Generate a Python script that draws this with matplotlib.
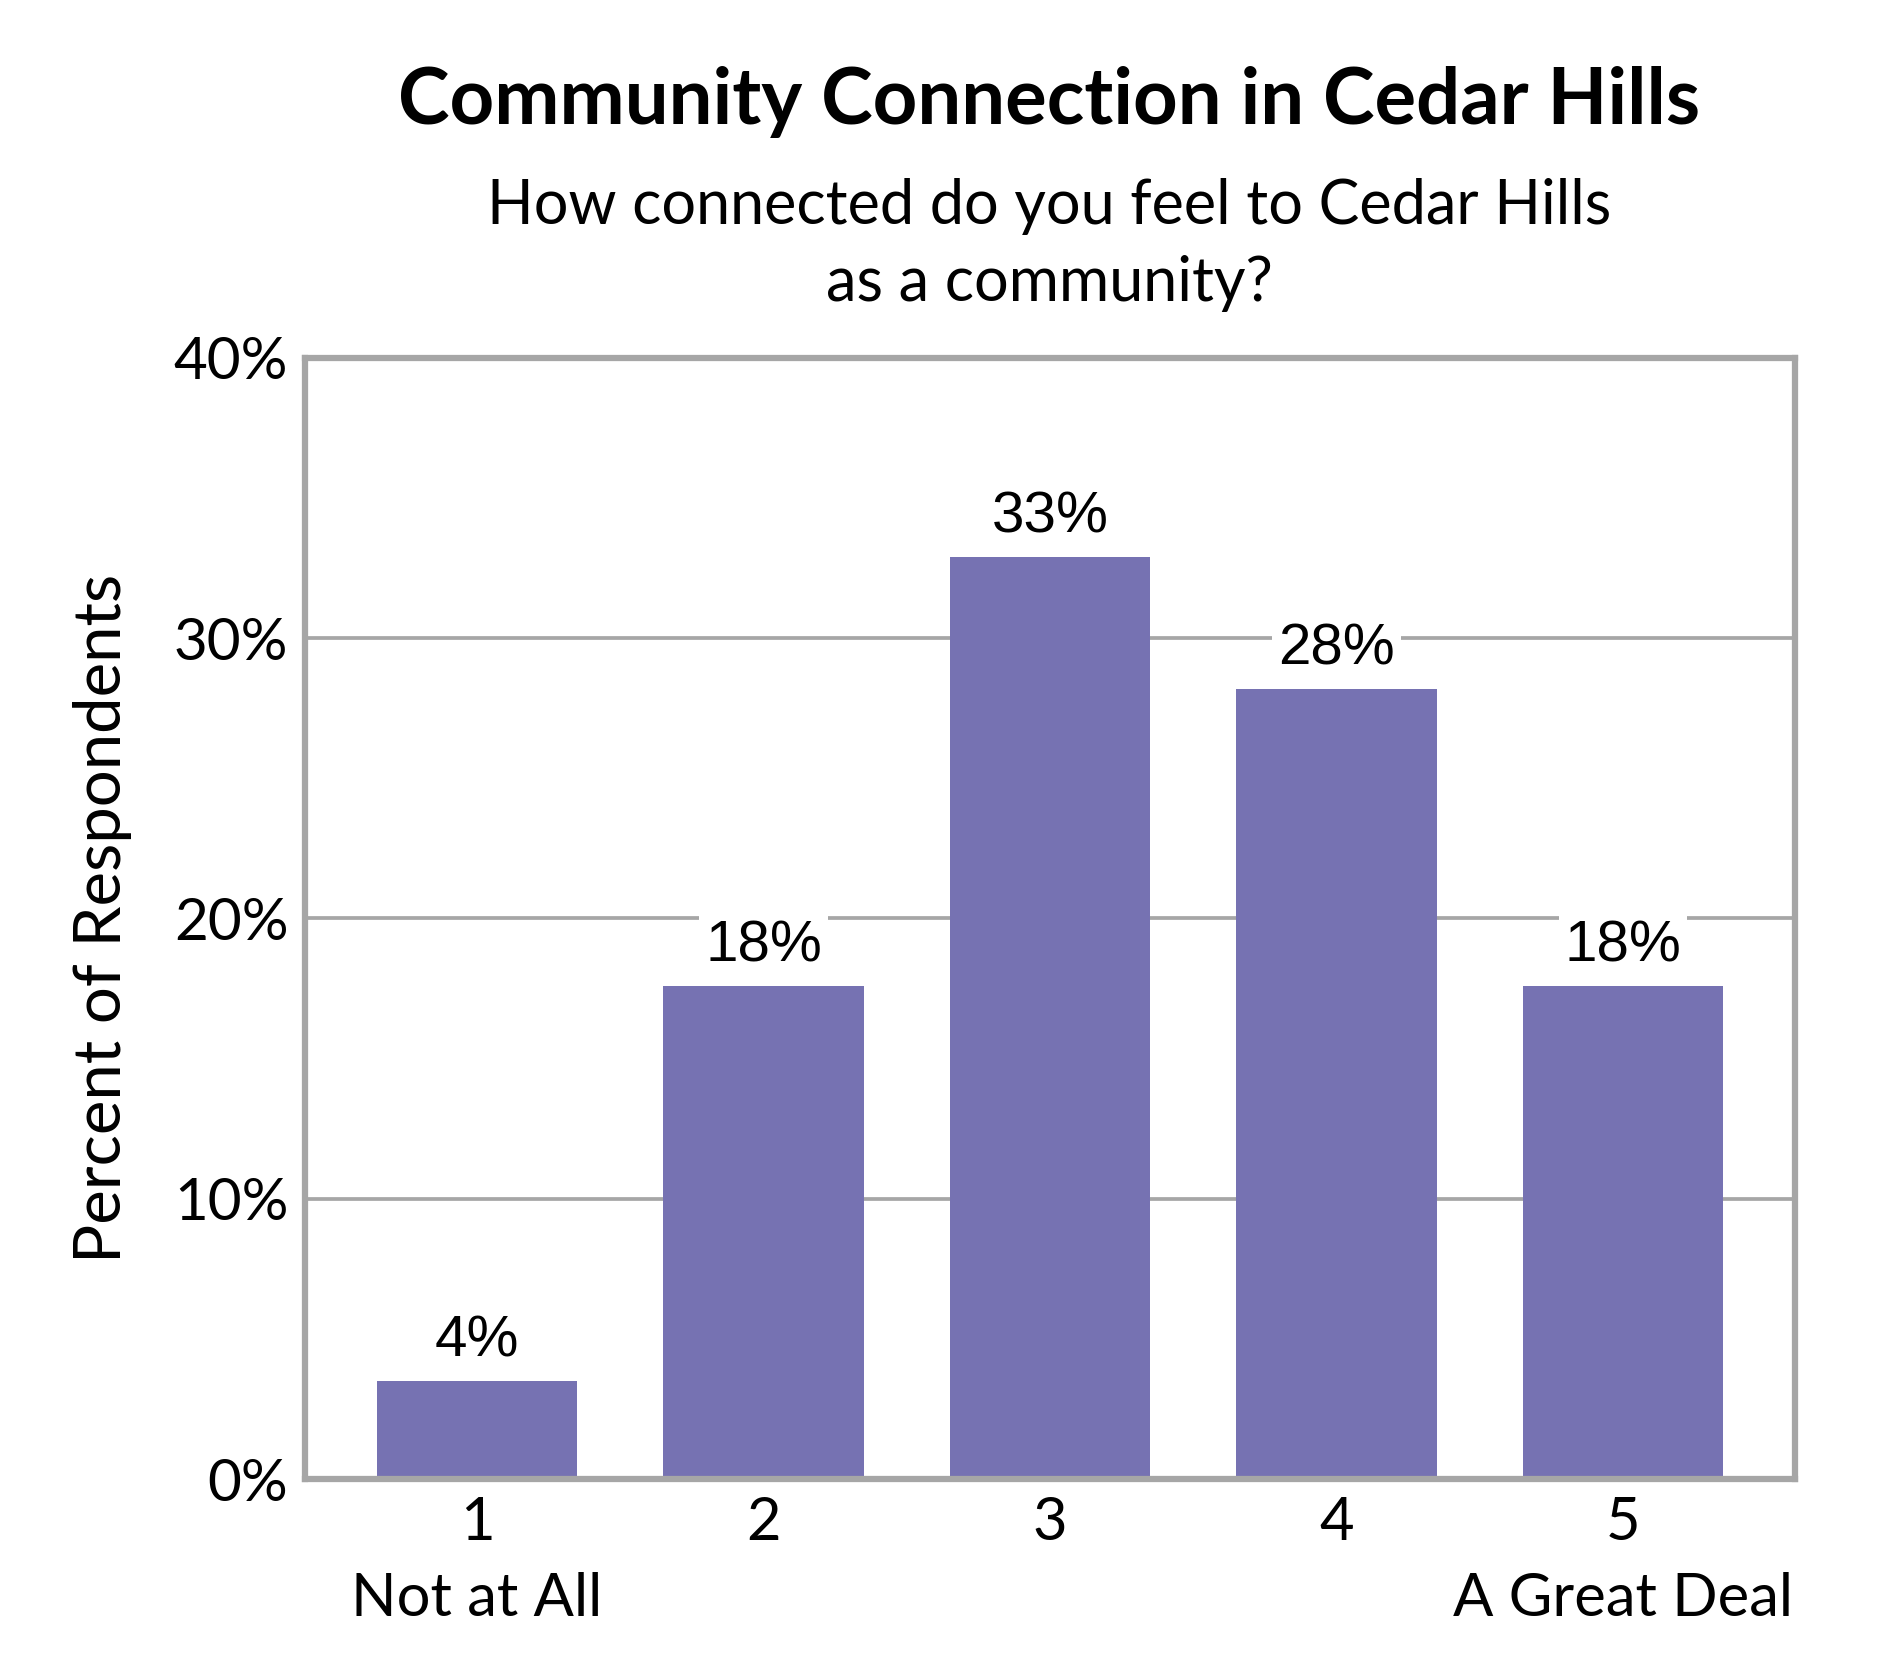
import matplotlib
matplotlib.use("Agg")
import matplotlib.pyplot as plt

categories = ["1\nNot at All", "2", "3", "4", "5\nA Great Deal"]
values = [3.5, 17.6, 32.9, 28.2, 17.6]
labels = ["4%", "18%", "33%", "28%", "18%"]
yticks = [0, 10, 20, 30, 40]
ytick_labels = ["0%", "10%", "20%", "30%", "40%"]

title = "Community Connection in Cedar Hills"
subtitle = "How connected do you feel to Cedar Hills\nas a community?"
ylabel = "Percent of Respondents"

bar_color = "#7672B2"
grid_color = "#A6A6A6"
main_font = ["Lato", "DejaVu Sans"]
label_font = ["Liberation Sans", "DejaVu Sans"]

fig = plt.figure(figsize=(18.9, 16.8), dpi=100)
ax = fig.add_axes([0.1614, 0.1196, 0.7883, 0.6674])

x = list(range(1, len(values) + 1))
ax.set_axisbelow(True)
ax.bar(x, values, width=0.7, color=bar_color, zorder=2)

ax.set_xlim(0.4, 5.6)
ax.set_ylim(0, 40)
ax.set_yticks(yticks)
ax.set_yticklabels(ytick_labels, fontsize=42, family=main_font)
ax.set_xticks(x)
ax.set_xticklabels(categories, fontsize=43, family=main_font, linespacing=1.5)
ax.tick_params(axis="both", length=0)
ax.tick_params(axis="y", pad=12)
ax.tick_params(axis="x", pad=12)

ax.yaxis.grid(True, color=grid_color, linewidth=2.7)
ax.xaxis.grid(False)
for s in ax.spines.values():
    s.set_color(grid_color)
    s.set_linewidth(4.5)

for xi, v, lab in zip(x, values, labels):
    ax.annotate(lab, (xi, v), xytext=(0, 9), textcoords="offset points",
                ha="center", va="bottom", fontsize=42, family=label_font,
                bbox=dict(boxstyle="square,pad=0.1", facecolor="white", edgecolor="none"),
                zorder=3)

ax.set_ylabel(ylabel, fontsize=47, family=main_font)
ax.yaxis.set_label_coords(-0.116, 0.5)

fig.text(0.555, 0.939, title, ha="center", va="center", fontsize=56,
         fontweight="bold", family=main_font)
fig.text(0.555, 0.854, subtitle, ha="center", va="center", fontsize=44,
         family=main_font, linespacing=1.44)

fig.savefig("out.png", dpi=100, facecolor="white")
